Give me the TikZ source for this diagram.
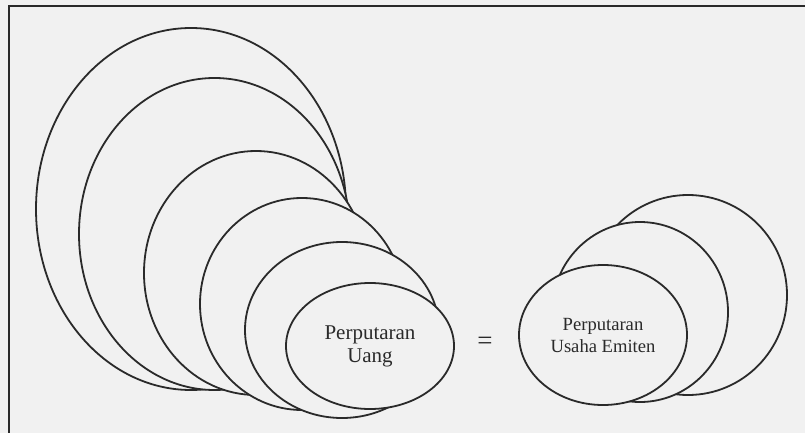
\documentclass[tikz,border=0pt]{standalone}
\usepackage{fontspec}
\setmainfont{Liberation Serif}
\usetikzlibrary{shapes.geometric}
\definecolor{paper}{HTML}{F1F1F1}
\definecolor{ink}{HTML}{2A2A2A}
\begin{document}
\begin{tikzpicture}[x=1pt,y=-1pt,
  oval/.style={ellipse, draw=ink, line width=1.8pt, fill=paper, inner sep=0pt, align=center, text=ink},
  frame/.style={draw=ink, line width=1.9pt}]
\fill[paper] (0,0) rectangle (805,433);
\useasboundingbox (0,0) rectangle (805,433);
\coordinate (fb) at (9,440);
\coordinate (fc) at (9,6);
\coordinate (fr) at (812,6);
\draw[frame] (fb) -- (fc) -- (fr);
% left cluster, back to front
\node[oval, minimum width=310pt, minimum height=362pt] (e1) at (191,209) {};
\node[oval, minimum width=271pt, minimum height=312pt] (e2) at (214.5,234) {};
\node[oval, minimum width=224pt, minimum height=244pt] (e3) at (256,273) {};
\node[oval, minimum width=204pt, minimum height=212pt] (e4) at (302,304) {};
\node[oval, minimum width=194pt, minimum height=176pt] (e5) at (342,330) {};
\node[oval, minimum width=168pt, minimum height=126pt, font=\fontsize{21}{23}\selectfont] (e6) at (370,346) {Perputaran\\Uang};
% equals
\node[text=ink, font=\fontsize{27}{29}\selectfont] (eq) at (485,343) {=};
% right cluster, back to front
\node[oval, minimum width=198pt, minimum height=200pt] (r1) at (688,295) {};
\node[oval, minimum width=176pt, minimum height=180pt] (r2) at (640,312) {};
\node[oval, minimum width=168pt, minimum height=140pt, font=\fontsize{18.6}{22}\selectfont] (r3) at (603,335) {Perputaran\\Usaha Emiten};
\end{tikzpicture}
\end{document}
